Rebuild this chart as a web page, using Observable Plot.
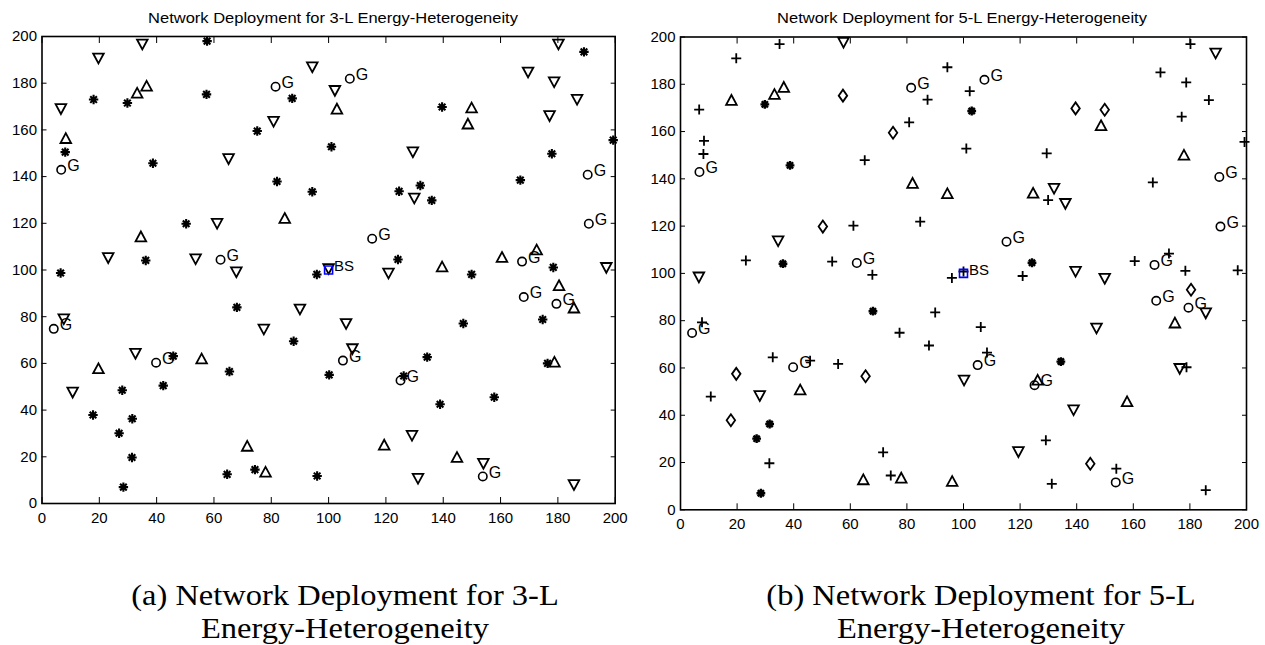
<!DOCTYPE html>
<html><head><meta charset="utf-8">
<script src="https://cdn.jsdelivr.net/npm/d3@7"></script>
<script src="https://cdn.jsdelivr.net/npm/@observablehq/plot@0.6"></script>
<style>
body{margin:0;background:#fff;}
#fig{position:relative;width:1265px;height:645px;overflow:hidden;background:#fff;}
.title{position:absolute;top:10px;font-family:"Liberation Sans",Arial,sans-serif;font-size:15px;line-height:16px;white-space:nowrap;transform:translateX(-50%) scaleX(1.1);color:#000;}
.cap{position:absolute;width:600px;text-align:center;font-family:"Liberation Serif","Times New Roman",serif;font-size:29px;line-height:33px;transform:scaleX(1.12);color:#000;top:579px;}
.panel{position:absolute;top:28px;}
</style></head>
<body><div id="fig"></div>
<script>
// ---------- data ----------
const xTicks = [0,20,40,60,80,100,120,140,160,180,200];
const yTicks = [0,20,40,60,80,100,120,140,160,180,200];

const nodeX = [35.0,57.6,19.7,94.3,18.0,6.6,29.8,33.2,36.5,57.4, 87.3,80.8,75.1,8.3,8.1,38.7,65.1,82.0,94.3,101.0,
  84.7,50.3,61.1,34.5,23.1,36.2,53.6,67.8,6.5,95.9, 100.0,180.2,189.1,102.2,169.6,178.7,186.7,102.9,139.6,149.9,
  148.6,177.1,199.3,177.9,129.4,166.9,124.6,132.0,129.9,136.0, 124.2,120.9,139.6,149.9,160.5,172.6,178.4,196.9,68.0,90.0,
  7.6,77.4,87.8,32.6,45.8,55.7,19.7,65.4,10.7,28.0, 42.3,17.8,31.5,26.9,31.4,28.4,71.6,64.6,74.3,78.0,
  96.0,100.2,180.4,185.6,106.1,147.0,174.7,108.3,134.4,126.2, 176.4,178.8,157.8,138.9,129.1,119.4,144.8,154.0,131.2,185.6];
const nodeY = [197.0,198.0,191.0,187.2,173.0,169.3,171.5,175.5,178.5,175.2, 173.5,163.9,159.5,156.1,150.5,145.7,147.9,137.9,133.5,152.8,
  121.9,119.8,120.2,114.0,105.5,104.1,105.0,99.4,98.7,98.1, 100.8,197.0,193.4,177.1,185.0,180.8,173.3,168.7,169.8,169.2,
  162.3,166.3,155.6,149.8,150.8,138.5,133.7,136.2,131.0,129.8, 104.5,98.9,101.1,98.1,105.2,108.4,101.1,101.3,84.0,83.5,
  79.3,74.9,69.5,64.5,63.1,61.7,57.5,56.5,47.9,48.5, 50.5,37.9,36.3,30.1,19.7,7.0,24.3,12.5,14.5,13.2,
  11.8,55.1,93.1,83.5,77.3,77.1,78.8,66.5,62.7,54.6, 60.0,60.3,45.5,42.5,29.4,24.8,19.5,17.4,11.0,8.3];

// 3-level energy classes: N = normal, A = advanced, S = super
const type3 = ["S","N","S","S","N","S","N","A","A","N", "N","S","N","A","N","N","S","N","N","N",
  "A","N","S","A","S","N","S","S","N","N", "S","S","N","S","S","S","S","A","N","A",
  "A","S","N","N","S","N","N","N","S","N", "N","S","A","N","A","A","N","S","N","S",
  "S","S","N","S","N","A","A","N","S","N", "N","N","N","N","N","N","A","N","N","A",
  "N","N","A","A","S","N","N","S","N","N", "N","A","N","N","S","A","A","S","S","S"];
// 5-level energy classes: P, N, A, S, D
const type5 = ["P","S","P","P","A","P","N","A","A","D", "P","P","D","P","P","N","P","A","A","P",
  "P","D","P","S","P","N","P","P","S","P", "P","P","S","P","P","P","P","N","D","D",
  "A","P","P","A","P","P","A","S","P","S", "N","P","S","S","P","P","P","P","N","P",
  "P","P","P","P","P","P","D","D","P","S", "A","D","N","N","P","N","P","A","P","A",
  "A","S","D","S","P","S","A","P","N","A", "S","P","A","S","P","S","D","P","P","P"];

const gwX = [81.5,6.7,62.3,107.4,190.4,190.8,115.2,167.5,4.1,39.8,168.1,179.5,105.0,125.1,153.8];
const gwY = [178.5,142.9,104.4,181.9,140.8,119.8,113.4,103.6,74.8,60.3,88.4,85.5,61.2,52.7,11.6];
const gwLabel = "G";
const bsX = [100], bsY = [100], bsLabel = "BS";

const titles = ["Network Deployment for 3-L Energy-Heterogeneity", "Network Deployment for 5-L Energy-Heterogeneity"];
const captions = [["(a) Network Deployment for 3-L","Energy-Heterogeneity"],["(b) Network Deployment for 5-L","Energy-Heterogeneity"]];

// ---------- symbols ----------
const rad = size => Math.sqrt(size / Math.PI);
const SYM = {
  star: {draw(c, size){const s = rad(size); for (let k = 0; k < 4; k++){const a = k*Math.PI/4, dx = s*Math.cos(a), dy = s*Math.sin(a); c.moveTo(-dx,-dy); c.lineTo(dx,dy);}}},
  triUp: {draw(c, size){const s = rad(size); c.moveTo(0,-1.1*s); c.lineTo(s,0.75*s); c.lineTo(-s,0.75*s); c.closePath();}},
  triDown: {draw(c, size){const s = rad(size); c.moveTo(0,1.1*s); c.lineTo(s,-0.75*s); c.lineTo(-s,-0.75*s); c.closePath();}},
  diamond: {draw(c, size){const s = rad(size); c.moveTo(0,-1.2*s); c.lineTo(0.85*s,0); c.lineTo(0,1.2*s); c.lineTo(-0.85*s,0); c.closePath();}},
  plus: {draw(c, size){const s = rad(size); c.moveTo(-s,0); c.lineTo(s,0); c.moveTo(0,-s); c.lineTo(0,s);}},
  ring: {draw(c, size){const s = rad(size); c.moveTo(s,0); c.arc(0,0,s,0,2*Math.PI);}},
  square: {draw(c, size){const s = rad(size); c.rect(-s,-s,2*s,2*s);}}
};
const styles3 = {N:{sym:SYM.star,r:4.7,sw:2.1}, A:{sym:SYM.triUp,r:5.3,sw:1.8}, S:{sym:SYM.triDown,r:5.3,sw:1.8}};
const styles5 = {P:{sym:SYM.plus,r:5,sw:1.8}, N:{sym:SYM.star,r:4.4,sw:2.4}, A:{sym:SYM.triUp,r:5.3,sw:1.8}, S:{sym:SYM.triDown,r:5.3,sw:1.8}, D:{sym:SYM.diamond,r:5,sw:1.8}};

const gateways = gwX.map((x,i) => ({x, y: gwY[i]}));
const bs = bsX.map((x,i) => ({x, y: bsY[i]}));

function panel(types, styles, m) {
  const nodes = nodeX.map((x,i) => ({x, y: nodeY[i], t: types[i]}));
  const marks = [
    Plot.frame({stroke: "black", strokeWidth: 1.6}),
    Plot.axisX(xTicks, {anchor: "bottom", tickSize: -6, tickPadding: 15, label: null, tickFormat: d => String(d)}),
    Plot.axisX(xTicks, {anchor: "top", tickSize: -6, tickPadding: 0, label: null, tickFormat: () => ""}),
    Plot.axisY(yTicks, {anchor: "left", tickSize: -5, tickPadding: 10, label: null, tickFormat: d => String(d)}),
    Plot.axisY(yTicks, {anchor: "right", tickSize: -5, tickPadding: 0, label: null, tickFormat: () => ""})
  ];
  for (const k of Object.keys(styles)) {
    const st = styles[k];
    marks.push(Plot.dot(nodes.filter(d => d.t === k), {x: "x", y: "y", symbol: st.sym, r: st.r, stroke: "black", strokeWidth: st.sw, fill: "none"}));
  }
  marks.push(Plot.dot(gateways, {x: "x", y: "y", symbol: SYM.ring, r: 4.2, stroke: "black", strokeWidth: 1.6, fill: "none"}));
  marks.push(Plot.text(gateways, {x: "x", y: "y", text: () => gwLabel, dx: 6, dy: -4, textAnchor: "start", lineAnchor: "middle", fontSize: 16}));
  marks.push(Plot.dot(bs, {x: "x", y: "y", symbol: SYM.square, r: 4, stroke: "#0000ff", strokeWidth: 1.6, fill: "none"}));
  marks.push(Plot.text(bs, {x: "x", y: "y", text: () => bsLabel, dx: 5.5, dy: -3.5, textAnchor: "start", lineAnchor: "middle", fontSize: 15}));
  return Plot.plot({
    width: m.w, height: 512,
    marginLeft: m.l, marginRight: m.r, marginTop: m.t, marginBottom: m.b,
    x: {domain: [0, 200]}, y: {domain: [0, 200]},
    style: {fontFamily: "'Liberation Sans', Arial, sans-serif", fontSize: "15px", color: "black", background: "white", overflow: "visible"},
    marks
  });
}

const fig = document.getElementById("fig");
const cfg = [
  {left: 0, w: 640, l: 41.5, r: 25.3, t: 8, b: 37, types: type3, styles: styles3, tc: 333, cc: 345},
  {left: 640, w: 625, l: 40, r: 19, t: 8.5, b: 30.7, types: type5, styles: styles5, tc: 962, cc: 981}
];
cfg.forEach((c, i) => {
  const svg = panel(c.types, c.styles, c);
  const wrap = document.createElement("div");
  wrap.className = "panel";
  wrap.style.left = c.left + "px";
  wrap.appendChild(svg);
  fig.appendChild(wrap);
  const t = document.createElement("div");
  t.className = "title";
  t.style.left = c.tc + "px";
  t.textContent = titles[i];
  fig.appendChild(t);
  const cap = document.createElement("div");
  cap.className = "cap";
  cap.style.left = (c.cc - 300) + "px";
  cap.innerHTML = captions[i][0] + "<br>" + captions[i][1];
  fig.appendChild(cap);
});
</script>
</body></html>
